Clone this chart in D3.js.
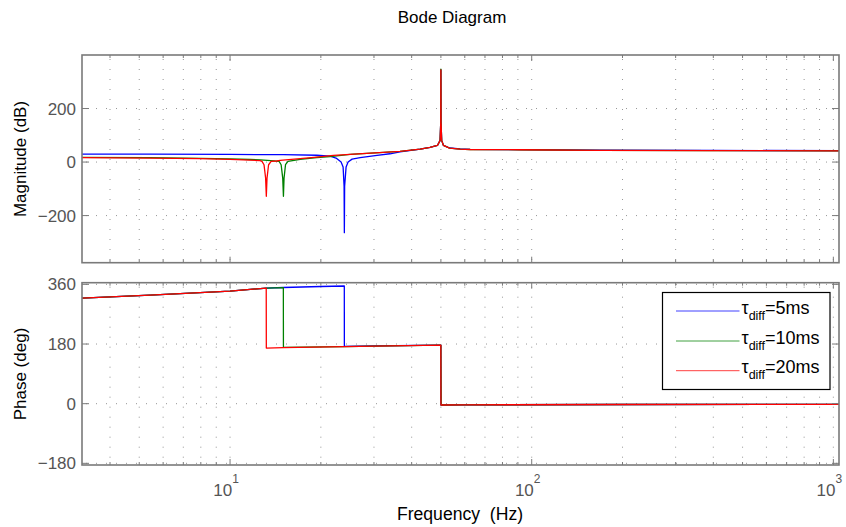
<!DOCTYPE html>
<html>
<head>
<meta charset="utf-8">
<script src="https://cdn.jsdelivr.net/npm/d3@7"></script>
<style>
  body { margin: 0; background: #fff; }
  text { font-family: "Liberation Sans", Arial, Helvetica, sans-serif; }
</style>
</head>
<body>
<svg id="chart" width="846" height="527"></svg>
<script>
// Series: differentiator time constant
const seriesLabels = ["5ms", "10ms", "20ms"];
const seriesColors = ["#0000ff", "#008000", "#ff0000"];

// Magnitude (dB) as [frequency Hz, value]
const magTau5 = [
  [3.23, 29.8], [5.4, 29.3], [10, 28.5], [15, 27.5], [19.4, 25.5], [21.45, 22],
  [22.46, 15], [23.34, 0], [23.7, -18], [23.88, -90], [23.93, -264], [23.98, -90],
  [24.25, -18], [24.62, 0], [25.38, 11], [27, 16.4], [30.7, 25], [33.9, 31],
  [36.6, 38], [42.7, 48.4], [46, 55], [48.7, 62], [49.7, 81], [49.95, 150],
  [50, 343], [50.05, 150], [50.3, 81], [51, 62], [53.4, 52.5], [57.9, 49],
  [62.5, 47.5], [91.8, 46.5], [168, 44.5], [400, 43.5], [1044, 42.5]
];
const magTau10 = [
  [3.23, 17.5], [5.4, 16.5], [8, 14], [10, 12], [11.65, 9.5], [12.6, 8.5],
  [14.0, 4.5], [14.54, 2.6], [14.77, -10], [14.95, -60], [15.03, -128], [15.1, -60],
  [15.27, -10], [15.56, 2.6], [17.07, 10], [19.4, 17], [21.45, 20.5], [25, 28.5],
  [32.24, 36], [36.6, 40], [42.7, 48.4], [46, 55], [48.7, 62], [49.7, 81],
  [49.95, 150], [50, 347], [50.05, 150], [50.3, 81], [51, 62], [53.4, 52],
  [57.9, 48.5], [62.5, 47], [91.8, 46], [168, 44], [400, 43], [1044, 42]
];
const magTau20 = [
  [3.23, 16.4], [5.4, 15], [8, 12.5], [10, 10], [11.65, 7.5], [12.57, 5],
  [12.76, 2.6], [12.96, -10], [13.12, -60], [13.19, -128], [13.26, -60], [13.42, -10],
  [13.68, 2.6], [14.28, 4], [14.65, 6], [17.07, 12.6], [19.4, 18.6], [22, 25],
  [25, 28.7], [32.24, 36], [36.6, 40], [42.7, 48.4], [46, 55], [48.7, 62],
  [49.7, 81], [49.95, 150], [50, 344], [50.05, 150], [50.3, 81], [51, 62],
  [53.4, 52], [57.9, 48.5], [62.5, 47], [91.8, 46], [168, 44], [400, 43], [1044, 42]
];

// Phase (deg) as [frequency Hz, value]
const phaseTau5 = [
  [3.23, 318.6], [5.43, 327.6], [10, 339.7], [13.2, 348.8], [15, 350.5],
  [20, 353.5], [23.92, 355], [23.93, 173], [30, 174.5], [49.98, 176.8],
  [50.02, -4], [60, -3.5], [200, -2.5], [1044, -2]
];
const phaseTau10 = [
  [3.23, 318.6], [5.43, 327.6], [10, 339.7], [13.2, 348.8], [15.02, 350],
  [15.03, 169.8], [24, 172], [30, 173.8], [49.98, 176.8], [50.1, -4],
  [60, -3.5], [200, -2.5], [1044, -2]
];
const phaseTau20 = [
  [3.23, 318.6], [5.43, 327.6], [10, 339.7], [13.18, 348.8], [13.19, 167.7],
  [15, 169], [24, 172], [30, 173.8], [49.98, 176.8], [50.02, -4],
  [60, -3.5], [200, -2.5], [1044, -2]
];

const magSeries = [magTau5, magTau10, magTau20];
const phaseSeries = [phaseTau5, phaseTau10, phaseTau20];

const magTicks = [-200, 0, 200];
const phaseTicks = [-180, 0, 180, 360];
const decadeTicks = [10, 100, 1000];

const svg = d3.select("#chart");
const X0 = 82, X1 = 839;
const x = d3.scaleLog().domain([3.23, 1044]).range([X0, X1]);
const yMag = d3.scaleLinear().domain([-376, 400]).range([262.7, 55]);
const yPh = d3.scaleLinear().domain([-185, 365]).range([465, 282.7]);

const minus = v => (v < 0 ? "\u2212" + Math.abs(v) : String(v));
const frameColor = "#7a7a7a";
const tickColor = "#555";

function panel(id, y, yTicks, series, showX) {
  const [b, t] = y.range();
  const g = svg.append("g");
  g.append("clipPath").attr("id", id).append("rect")
    .attr("x", X0).attr("y", t).attr("width", X1 - X0).attr("height", b - t);

  // dotted grid
  const allX = x.ticks();
  g.selectAll(".vg").data(allX).join("line")
    .attr("x1", d => x(d)).attr("x2", d => x(d))
    .attr("y1", t).attr("y2", b)
    .attr("stroke", "#8a8a8a").attr("stroke-width", 0.9)
    .attr("stroke-dasharray", "1,9").attr("stroke-dashoffset", -4);
  g.selectAll(".hg").data(yTicks).join("line")
    .attr("x1", X0).attr("x2", X1)
    .attr("y1", d => y(d)).attr("y2", d => y(d))
    .attr("stroke", "#8a8a8a").attr("stroke-width", 0.9)
    .attr("stroke-dasharray", "1,9").attr("stroke-dashoffset", -4);

  // traces
  const line = d3.line().x(d => x(d[0])).y(d => y(d[1]));
  g.append("g").attr("clip-path", `url(#${id})`)
    .selectAll("path").data(series).join("path")
    .attr("d", line).attr("fill", "none")
    .attr("stroke", (d, i) => seriesColors[i])
    .attr("stroke-width", 1.3).attr("stroke-linejoin", "round");

  // inward ticks on all sides
  const isMajor = d => decadeTicks.includes(d);
  const tk = g.append("g").attr("stroke", frameColor).attr("stroke-width", 1);
  tk.selectAll(".xb").data(allX).join("line")
    .attr("x1", d => x(d)).attr("x2", d => x(d))
    .attr("y1", b).attr("y2", d => b - (isMajor(d) ? 6 : 3));
  tk.selectAll(".xt").data(allX).join("line")
    .attr("x1", d => x(d)).attr("x2", d => x(d))
    .attr("y1", t).attr("y2", d => t + (isMajor(d) ? 6 : 3));
  tk.selectAll(".yl").data(yTicks).join("line")
    .attr("x1", X0).attr("x2", X0 + 7)
    .attr("y1", d => y(d)).attr("y2", d => y(d));
  tk.selectAll(".yr").data(yTicks).join("line")
    .attr("x1", X1).attr("x2", X1 - 7)
    .attr("y1", d => y(d)).attr("y2", d => y(d));

  g.append("rect").attr("x", X0).attr("y", t).attr("width", X1 - X0).attr("height", b - t)
    .attr("fill", "none").attr("stroke", frameColor).attr("stroke-width", 1.6);

  g.selectAll(".yl-text").data(yTicks).join("text")
    .attr("x", X0 - 6).attr("y", d => y(d)).attr("dy", "0.36em")
    .attr("text-anchor", "end").attr("font-size", 17).attr("fill", tickColor)
    .text(minus);

  if (showX) {
    const lab = g.selectAll(".xl").data(decadeTicks).join("text")
      .attr("x", d => x(d) - 4).attr("y", b + 31)
      .attr("text-anchor", "middle").attr("font-size", 17).attr("fill", tickColor);
    lab.append("tspan").text("10");
    lab.append("tspan").attr("dy", -13).attr("font-size", 12)
      .text(d => String(Math.round(Math.log10(d))));
  }
}

panel("clipMag", yMag, magTicks, magSeries, false);
panel("clipPh", yPh, phaseTicks, phaseSeries, true);

// titles
svg.append("text").attr("x", 452).attr("y", 22.7).attr("text-anchor", "middle")
  .attr("font-size", 17).attr("fill", "#000").text("Bode Diagram");
svg.append("text").attr("x", 460).attr("y", 520).attr("text-anchor", "middle")
  .attr("font-size", 17.6).attr("fill", "#000").style("white-space", "pre")
  .text("Frequency  (Hz)");
svg.append("text").attr("transform", "translate(26,159) rotate(-90)")
  .attr("text-anchor", "middle").attr("font-size", 17).attr("fill", "#000")
  .text("Magnitude (dB)");
svg.append("text").attr("transform", "translate(26,374) rotate(-90)")
  .attr("text-anchor", "middle").attr("font-size", 17).attr("fill", "#000")
  .text("Phase (deg)");

// legend
const lg = svg.append("g");
lg.append("rect").attr("x", 662.5).attr("y", 292.5).attr("width", 167.5).attr("height", 97)
  .attr("fill", "#fff").attr("stroke", "#000").attr("stroke-width", 1.2);
const rowY = [311, 341, 370.7];
seriesLabels.forEach((s, i) => {
  lg.append("line").attr("x1", 676).attr("x2", 739.5)
    .attr("y1", rowY[i]).attr("y2", rowY[i])
    .attr("stroke", seriesColors[i]).attr("stroke-width", 1).attr("stroke-opacity", 0.75);
  const tx = lg.append("text").attr("x", 741.5).attr("y", rowY[i] + 2.5)
    .attr("font-size", 18).attr("fill", "#000");
  tx.append("tspan").text("\u03c4");
  tx.append("tspan").attr("dy", 6).attr("font-size", 12.5).text("diff");
  tx.append("tspan").attr("dy", -6).text("=" + s);
});
</script>
</body>
</html>
